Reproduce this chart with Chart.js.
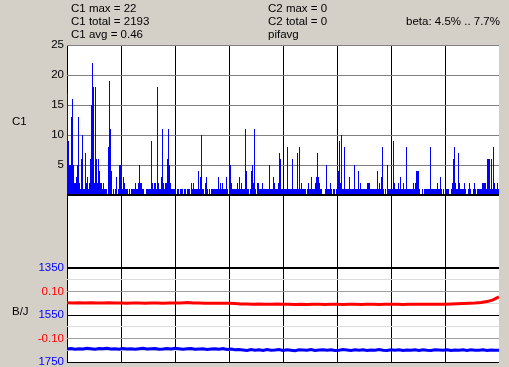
<!DOCTYPE html>
<html>
<head>
<meta charset="utf-8">
<script src="https://cdn.jsdelivr.net/npm/chart.js@4/dist/chart.umd.min.js"></script>
<style>
    body { margin: 0; background: #d4d0c8; }
    #wrap { position: relative; width: 509px; height: 367px; overflow: hidden; }
    #wrap canvas { position: absolute; left: 0; top: 0; }
    .txt { position: absolute; font: 11.5px "Liberation Sans", Arial, sans-serif; line-height: 13px; color: #000; white-space: pre; }
</style>
</head>
<body>
<div id="wrap">
    <canvas id="grafico" width="509" height="367"></canvas>
    <div class="txt" id="stats-c1" style="left:71px; top:1.5px;"></div>
    <div class="txt" id="stats-c2" style="left:268px; top:1.5px;"></div>
    <div class="txt" id="beta" style="right:9px; top:14.5px;"></div>
    <div class="txt" style="left:12px; top:114.5px;">C1</div>
    <div class="txt" style="left:12px; top:305px;">B/J</div>
</div>
<script>
// contagens C1, uma barra por pixel (8 blocos de 54)
const c1Counts = [
    17,9,5,5,13,16,5,2,2,3, 5,13,2,1,6,10,1,1,7,2, 3,1,2,6,15,22,18,2,18,6, 2,6,4,2,2,1,2,1,1,1, 0,8,19,11,4,0,1,0,1,3, 0,1,5,5,
    5,1,3,2,1,1,1,0,1,0, 1,1,1,1,2,1,1,2,5,2, 2,1,1,0,0,1,1,1,1,1, 9,2,1,2,2,1,18,2,1,1, 3,11,2,1,2,2,6,11,5,2, 1,1,1,1,
    1,0,1,1,0,1,1,1,0,1, 1,0,1,1,1,0,2,1,2,1, 1,1,1,4,1,3,10,1,1,0, 2,3,1,0,1,0,1,1,1,1, 1,1,1,3,1,2,1,2,1,1, 1,3,1,0,
    5,5,2,1,1,1,1,1,2,1, 3,1,2,1,1,1,11,4,1,1, 0,1,4,5,2,11,1,0,2,2, 1,1,1,2,1,1,1,1,1,1, 5,1,1,1,3,2,1,1,1,2, 7,6,1,1,
    1,1,1,1,8,1,1,1,1,6, 1,1,1,1,7,1,8,1,2,1, 1,1,1,0,1,2,1,1,3,1, 1,1,2,3,7,3,2,1,1,0, 0,0,1,5,1,1,1,2,1,0, 1,1,0,1,
    4,4,9,2,10,1,1,8,1,1, 1,1,3,1,1,1,1,5,1,1, 1,4,1,2,1,1,1,1,1,1, 2,2,2,1,1,1,1,1,1,1, 4,1,2,1,3,8,1,0,1,0, 5,1,1,1,
    1,1,9,2,1,1,1,2,1,3, 1,1,2,1,1,8,1,1,1,1, 1,1,2,1,2,4,4,4,1,0, 0,1,0,1,1,1,1,1,1,8, 1,1,1,1,1,1,2,1,1,3, 1,0,1,0,
    1,1,1,1,0,0,1,2,6,8, 2,1,1,7,2,1,1,1,1,2, 1,0,0,1,2,1,0,0,1,2, 1,0,1,1,1,1,1,2,2,2, 2,1,6,6,6,1,6,1,8,2, 1,1,2,1
];

// beta (linha vermelha), a cada 6 amostras
const betaValues = [
    0.052,0.051,0.052,0.051,0.052,0.051,0.051,0.052,0.051,0.051,
    0.050,0.051,0.051,0.050,0.051,0.051,0.050,0.051,0.051,0.051,
    0.053,0.051,0.051,0.050,0.050,0.050,0.050,0.050,0.049,0.047,
    0.047,0.046,0.047,0.046,0.046,0.047,0.046,0.046,0.045,0.046,
    0.045,0.046,0.046,0.045,0.046,0.046,0.045,0.046,0.046,0.045,
    0.046,0.046,0.045,0.046,0.046,0.046,0.045,0.046,0.046,0.046,
    0.046,0.046,0.046,0.046,0.047,0.048,0.049,0.050,0.051,0.053,
    0.057,0.064,0.077
];

// B/J (linha azul), a cada 4 amostras
const bjValues = [
    1695,1693,1696,1694,1695,1692,1694,1696,1693,1694,
    1692,1695,1694,1696,1693,1695,1694,1696,1694,1692,
    1695,1694,1693,1696,1695,1693,1695,1692,1694,1696,
    1694,1693,1696,1695,1694,1697,1695,1694,1696,1693,
    1697,1695,1698,1697,1699,1701,1697,1700,1698,1701,
    1697,1700,1699,1697,1701,1698,1700,1702,1698,1699,
    1700,1697,1701,1699,1698,1700,1698,1701,1700,1697,
    1699,1701,1698,1700,1698,1701,1699,1700,1697,1700,
    1701,1698,1700,1698,1701,1699,1700,1698,1701,1698,
    1700,1701,1698,1699,1700,1698,1701,1699,1700,1698,
    1701,1698,1700,1700,1698,1701,1699,1700,1700
];

const c1Ticks = [25, 20, 15, 10, 5];
const bjTicks = [1350, 1450, 1550, 1650, 1750];
const bjTickText = ['1350', '0.10', '1550', '-0.10', '1750'];
const redTicks = [1450, 1650];

const statsC1 = ['C1 max = 22', 'C1 total = 2193', 'C1 avg = 0.46'];
const statsC2 = ['C2 max = 0', 'C2 total = 0', 'pifavg'];
const betaRange = 'beta: 4.5% .. 7.7%';

document.getElementById('stats-c1').textContent = statsC1.join('\n');
document.getElementById('stats-c2').textContent = statsC2.join('\n');
document.getElementById('beta').textContent = betaRange;

const fixWidth = (scale) => {
    scale.width = 67;
    scale.paddingTop = 0;
    scale.paddingBottom = 0;
};

// fundo branco da area do grafico
const plotBackground = {
    id: 'plotBackground',
    beforeDraw: (chart) => {
        const { ctx, chartArea: a } = chart;
        ctx.save();
        ctx.fillStyle = '#ffffff';
        ctx.fillRect(a.left, a.top, a.right - a.left, a.bottom - a.top);
        ctx.restore();
    }
};

const bjGridColor = (ctx) => {
    const v = ctx.tick.value;
    if (v === 1350 || v === 1550 || v === 1750) return '#000000';
    if (redTicks.includes(v)) return '#a0a0a0';
    return '#dcdcdc';
};

Chart.defaults.font.family = '"Liberation Sans", Arial, sans-serif';
Chart.defaults.font.size = 11.5;

new Chart(document.getElementById('grafico'), {
    type: 'bar',
    data: {
        datasets: [
            {
                type: 'line',
                data: betaValues.map((v, k) => ({ x: k * 6, y: v })),
                yAxisID: 'yRed',
                borderColor: '#ff0000',
                borderWidth: 3,
                pointRadius: 0,
                tension: 0
            },
            {
                type: 'line',
                data: bjValues.map((v, k) => ({ x: k * 4, y: v })),
                yAxisID: 'yBlue',
                borderColor: '#0000ff',
                borderWidth: 3,
                pointRadius: 0,
                tension: 0
            },
            {
                data: c1Counts.map((v, i) => ({ x: i + 0.5, y: v })),
                yAxisID: 'yBars',
                backgroundColor: '#0000ff',
                borderWidth: 0,
                barThickness: 1,
                inflateAmount: 0
            }
        ]
    },
    options: {
        responsive: false,
        animation: false,
        devicePixelRatio: 1,
        layout: { padding: { top: 45, right: 10, bottom: 5, left: 0 } },
        plugins: { legend: { display: false }, tooltip: { enabled: false } },
        scales: {
            x: {
                type: 'linear',
                min: 0,
                max: 432,
                offset: false,
                ticks: { display: false, stepSize: 54 },
                grid: {
                    offset: false,
                    drawTicks: false,
                    color: (ctx) => ctx.tick.value >= 432 ? 'rgba(0,0,0,0)' : '#000000',
                    lineWidth: 1
                },
                border: { display: false }
            },
            yBars: {
                type: 'linear',
                position: 'left',
                stack: 'main',
                stackWeight: 150,
                weight: 3,
                min: 0,
                max: 25,
                afterFit: fixWidth,
                ticks: {
                    stepSize: 5,
                    padding: 3,
                    autoSkip: false,
                    color: '#000000',
                    callback: (v) => c1Ticks.includes(v) ? String(v) : ''
                },
                grid: {
                    drawTicks: false,
                    color: (ctx) => ctx.tick.value === 0 ? 'rgba(0,0,0,0)' : '#808080'
                },
                border: { display: false }
            },
            yGap: {
                type: 'linear',
                position: 'left',
                stack: 'main',
                stackWeight: 73,
                weight: 2,
                min: 0,
                max: 1,
                afterFit: fixWidth,
                afterBuildTicks: (scale) => { scale.ticks = [{ value: 1 }]; },
                ticks: { display: false },
                grid: { drawTicks: false, color: '#000000', lineWidth: 2, z: 1 },
                border: { display: false }
            },
            yBlue: {
                type: 'linear',
                position: 'left',
                stack: 'main',
                stackWeight: 94,
                weight: 1,
                reverse: true,
                min: 1350,
                max: 1750,
                afterFit: fixWidth,
                ticks: {
                    stepSize: 50,
                    padding: 3,
                    autoSkip: false,
                    color: (ctx) => ctx.tick && redTicks.includes(ctx.tick.value) ? '#ff0000' : '#0000ff',
                    callback: (v) => {
                        const idx = bjTicks.indexOf(v);
                        return idx >= 0 ? bjTickText[idx] : '';
                    }
                },
                grid: {
                    drawTicks: false,
                    color: bjGridColor,
                    lineWidth: (ctx) => ctx.tick.value === 1350 ? 2 : 1
                },
                border: { display: false }
            },
            rTop: {
                type: 'linear',
                display: false,
                position: 'right',
                stack: 'r',
                stackWeight: 223,
                weight: 1,
                min: 0,
                max: 1
            },
            yRed: {
                type: 'linear',
                display: false,
                position: 'right',
                stack: 'r',
                stackWeight: 94,
                weight: 2,
                min: -0.2,
                max: 0.2
            }
        }
    },
    plugins: [plotBackground]
});
</script>
</body>
</html>
